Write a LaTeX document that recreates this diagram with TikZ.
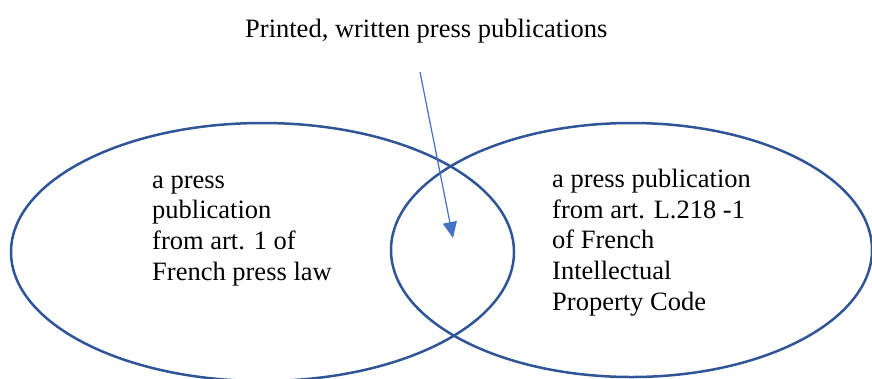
\documentclass[tikz,border=0pt]{standalone}
\usepackage{fontspec}
\setmainfont{Liberation Serif}
\usetikzlibrary{arrows.meta}
\definecolor{setblue}{HTML}{2F5597}
\definecolor{arrowblue}{HTML}{4472C4}

\begin{document}
\begin{tikzpicture}[x=1pt,y=-1pt,
	settext/.style={anchor=base west,align=left,inner sep=0pt,
		font=\fontsize{26.5}{30.6}\selectfont},
	setline/.style={draw=setblue,line width=2.5pt}]
				\useasboundingbox (0,0) rectangle (872,378);
				\draw[setline] (262.5,252) ellipse [x radius=251.5, y radius=129];
				\draw[setline] (631.5,250) ellipse [x radius=240.5, y radius=127];
				\node[settext] (title) at (245,37) {Printed, written press publications};
				% base of a multi-line node is its last line
				\node[settext] (law) at (152,280) {a press\\publication\\from art. 1 of\\French press law};
				\node[settext] (code) at (552,310) {a press publication\\from art. L.218 -1\\of French\\Intellectual\\Property Code};
				\coordinate (from) at (420,72);
				\coordinate (both) at (453,238);
				\draw[-{Triangle[length=16pt,width=14pt]},draw=arrowblue,fill=arrowblue,line width=1.2pt] (from) -- (both);
			\end{tikzpicture}
\end{document}
